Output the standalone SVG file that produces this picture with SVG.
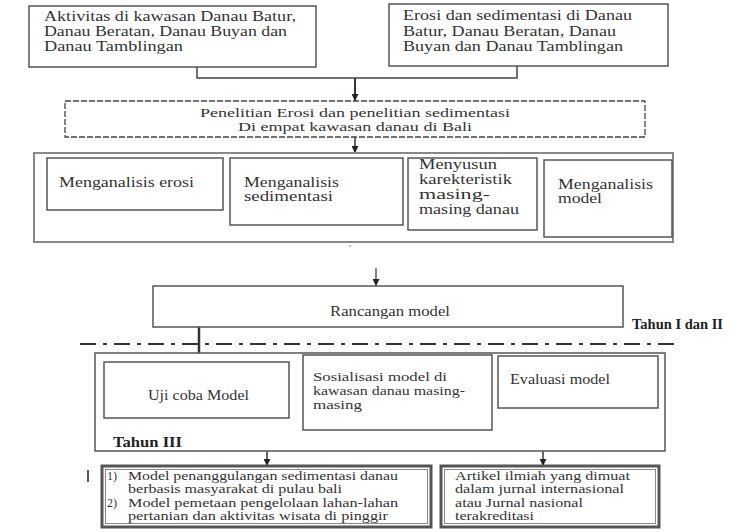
<svg xmlns="http://www.w3.org/2000/svg" width="756" height="532" viewBox="0 0 756 532" font-family="'Liberation Serif','DejaVu Serif',serif">
<defs>
<marker id="arr" markerUnits="userSpaceOnUse" markerWidth="7" markerHeight="7" refX="7" refY="3.5" orient="auto"><path d="M0,0 L7,3.5 L0,7 z" fill="#222"/></marker>
<style>
text{font-family:'Liberation Serif','DejaVu Serif',serif;font-size:14px;fill:#333}
.b{font-weight:bold;fill:#222}
.s{font-size:12px}
.m{font-size:12.5px}
.box{fill:#fff;stroke:#555;stroke-width:1.5}
.outer{fill:#fff;stroke:#888;stroke-width:2}
.dbl{fill:#fff;stroke:#555;stroke-width:3}
.dbli{fill:none;stroke:#888;stroke-width:1}
.ln{fill:none;stroke:#444;stroke-width:1.5}
</style>
</defs>
<rect width="756" height="532" fill="#fff"/>

<g id="connectors">
<polyline class="ln" points="197,67 197,78 517,78 517,66"/>
<line x1="355" y1="78" x2="355" y2="101" stroke="#333" stroke-width="2" marker-end="url(#arr)"/>
<line x1="355" y1="137" x2="355" y2="153" stroke="#333" stroke-width="1.5" marker-end="url(#arr)"/>
<line x1="376" y1="268" x2="376" y2="286" stroke="#333" stroke-width="1.2" marker-end="url(#arr)"/>
<line x1="199" y1="327" x2="199" y2="362" stroke="#333" stroke-width="2.5" marker-end="url(#arr)"/>
<line x1="267" y1="451" x2="267" y2="466" stroke="#333" stroke-width="1.5" marker-end="url(#arr)"/>
<line x1="543" y1="451" x2="543" y2="466" stroke="#333" stroke-width="1.5" marker-end="url(#arr)"/>
<line x1="80" y1="344" x2="676" y2="344" stroke="#333" stroke-width="2" stroke-dasharray="16,7,4,7"/>
</g>

<g id="n-aktivitas">
<rect class="box" x="29" y="6" width="287" height="61"/>
<text x="44" y="21" textLength="252" lengthAdjust="spacingAndGlyphs">Aktivitas di kawasan Danau Batur,</text>
<text x="44" y="36" textLength="243" lengthAdjust="spacingAndGlyphs">Danau Beratan, Danau Buyan dan</text>
<text x="44" y="51" textLength="139" lengthAdjust="spacingAndGlyphs">Danau Tamblingan</text>
</g>

<g id="n-erosi-sedimentasi">
<rect class="box" x="389" y="4" width="279" height="62"/>
<text x="403" y="20" textLength="229" lengthAdjust="spacingAndGlyphs">Erosi dan sedimentasi di Danau</text>
<text x="403" y="36" textLength="213" lengthAdjust="spacingAndGlyphs">Batur, Danau Beratan, Danau</text>
<text x="403" y="51" textLength="220" lengthAdjust="spacingAndGlyphs">Buyan dan Danau Tamblingan</text>
</g>

<g id="n-penelitian">
<rect x="65" y="101" width="580" height="36" fill="#fff" stroke="#444" stroke-width="1.3" stroke-dasharray="6,2"/>
<text class="m" x="200" y="117" textLength="310" lengthAdjust="spacingAndGlyphs">Penelitian Erosi dan penelitian sedimentasi</text>
<text class="m" x="238" y="131" textLength="234" lengthAdjust="spacingAndGlyphs">Di empat kawasan danau di Bali</text>
</g>

<g id="n-analisis-group">
<rect class="outer" x="34" y="153" width="639" height="89"/>
</g>
<g id="n-analisis-erosi">
<rect class="box" x="47" y="158" width="176" height="52"/>
<text x="59" y="187" textLength="135" lengthAdjust="spacingAndGlyphs">Menganalisis erosi</text>
</g>
<g id="n-analisis-sedimentasi">
<rect class="box" x="230" y="158" width="173" height="67"/>
<text x="244" y="187" textLength="95" lengthAdjust="spacingAndGlyphs">Menganalisis</text>
<text x="244" y="201" textLength="89" lengthAdjust="spacingAndGlyphs">sedimentasi</text>
</g>
<g id="n-karakteristik">
<rect class="box" x="408" y="158" width="129" height="72"/>
<text x="419" y="169" textLength="78" lengthAdjust="spacingAndGlyphs">Menyusun</text>
<text x="419" y="184" textLength="93" lengthAdjust="spacingAndGlyphs">karekteristik</text>
<text x="419" y="199" textLength="71" lengthAdjust="spacingAndGlyphs">masing-</text>
<text x="419" y="214" textLength="100" lengthAdjust="spacingAndGlyphs">masing danau</text>
</g>
<g id="n-analisis-model">
<rect class="box" x="544" y="160" width="128" height="77" stroke-width="2.5"/>
<text x="558" y="189" textLength="95" lengthAdjust="spacingAndGlyphs">Menganalisis</text>
<text x="558" y="203" textLength="44" lengthAdjust="spacingAndGlyphs">model</text>
</g>
<circle cx="350" cy="246" r="0.8" fill="#666"/>

<g id="n-rancangan">
<rect class="box" x="153" y="286" width="470" height="41" stroke-width="1.2"/>
<text x="330" y="316" textLength="120" lengthAdjust="spacingAndGlyphs">Rancangan  model</text>
</g>
<text class="b" x="632" y="329" textLength="91" lengthAdjust="spacingAndGlyphs">Tahun I dan II</text>

<g id="n-tahun3-group">
<rect class="box" x="95" y="353" width="570" height="98" stroke="#666"/>
<text class="b" x="113" y="447" textLength="69" lengthAdjust="spacingAndGlyphs">Tahun III</text>
</g>
<g id="n-ujicoba">
<rect class="box" x="104" y="362" width="185" height="56"/>
<text x="148" y="400" textLength="101" lengthAdjust="spacingAndGlyphs">Uji coba Model</text>
</g>
<g id="n-sosialisasi">
<rect class="box" x="303" y="355" width="189" height="75"/>
<text class="m" x="313" y="381" textLength="134" lengthAdjust="spacingAndGlyphs">Sosialisasi model di</text>
<text class="m" x="313" y="395" textLength="152" lengthAdjust="spacingAndGlyphs">kawasan danau masing-</text>
<text class="m" x="313" y="409" textLength="49" lengthAdjust="spacingAndGlyphs">masing</text>
</g>
<g id="n-evaluasi">
<rect class="box" x="498" y="356" width="160" height="52"/>
<text x="510" y="384" textLength="100" lengthAdjust="spacingAndGlyphs">Evaluasi model</text>
</g>

<line x1="88" y1="470" x2="88" y2="482" stroke="#222" stroke-width="1.5"/>
<g id="n-model-output">
<rect class="dbl" x="102" y="466" width="329" height="61"/>
<rect class="dbli" x="105.5" y="469.5" width="322" height="54"/>
<text class="s" x="107" y="480">1)</text>
<text class="s" x="128" y="480" textLength="270" lengthAdjust="spacingAndGlyphs">Model penanggulangan sedimentasi danau</text>
<text class="s" x="128" y="493" textLength="214" lengthAdjust="spacingAndGlyphs">berbasis masyarakat di pulau bali</text>
<text class="s" x="107" y="507">2)</text>
<text class="s" x="128" y="507" textLength="270" lengthAdjust="spacingAndGlyphs">Model pemetaan pengelolaan lahan-lahan</text>
<text class="s" x="128" y="520" textLength="260" lengthAdjust="spacingAndGlyphs">pertanian dan aktivitas wisata di pinggir</text>
</g>
<g id="n-artikel">
<rect class="dbl" x="441" y="466" width="218" height="61"/>
<rect class="dbli" x="444.5" y="469.5" width="211" height="54"/>
<text class="s" x="455" y="480" textLength="175" lengthAdjust="spacingAndGlyphs">Artikel ilmiah yang dimuat</text>
<text class="s" x="455" y="493" textLength="169" lengthAdjust="spacingAndGlyphs">dalam jurnal internasional</text>
<text class="s" x="455" y="507" textLength="128" lengthAdjust="spacingAndGlyphs">atau Jurnal nasional</text>
<text class="s" x="455" y="520" textLength="79" lengthAdjust="spacingAndGlyphs">terakreditasi</text>
</g>
</svg>
